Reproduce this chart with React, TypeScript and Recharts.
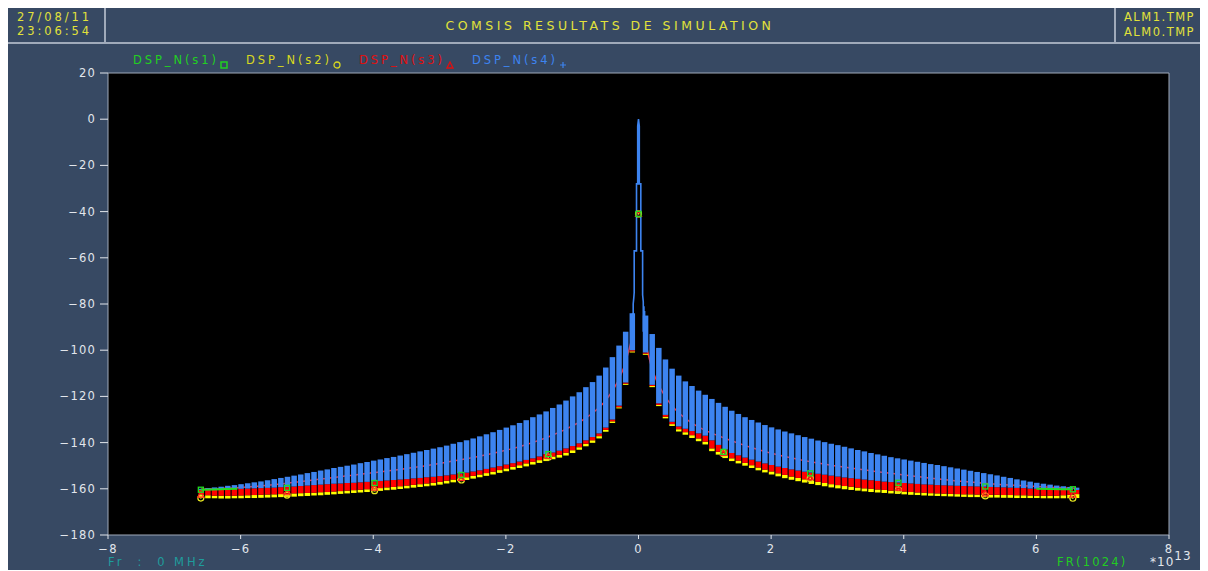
import React from 'react';
import {
  ComposedChart, Bar, Line, Scatter, XAxis, YAxis, CartesianGrid, ReferenceLine, Legend
} from 'recharts';

// frequency bins (x 1e13), each half listed outward from the centre
const freqLeft = [
  -0.1, -0.2, -0.3, -0.4, -0.5, -0.6, -0.7, -0.8, -0.9, -1.0,
  -1.1, -1.2, -1.3, -1.4, -1.5, -1.6, -1.7, -1.8, -1.9, -2.0,
  -2.1, -2.2, -2.3, -2.4, -2.5, -2.6, -2.7, -2.8, -2.9, -3.0,
  -3.1, -3.2, -3.3, -3.4, -3.5, -3.6, -3.7, -3.8, -3.9, -4.0,
  -4.1, -4.2, -4.3, -4.4, -4.5, -4.6, -4.7, -4.8, -4.9, -5.0,
  -5.1, -5.2, -5.3, -5.4, -5.5, -5.6, -5.7, -5.8, -5.9, -6.0,
  -6.1, -6.2, -6.3, -6.4, -6.5, -6.6,
];
const freqRight = [
  0.1, 0.2, 0.3, 0.4, 0.5, 0.6, 0.7, 0.8, 0.9, 1.0,
  1.1, 1.2, 1.3, 1.4, 1.5, 1.6, 1.7, 1.8, 1.9, 2.0,
  2.1, 2.2, 2.3, 2.4, 2.5, 2.6, 2.7, 2.8, 2.9, 3.0,
  3.1, 3.2, 3.3, 3.4, 3.5, 3.6, 3.7, 3.8, 3.9, 4.0,
  4.1, 4.2, 4.3, 4.4, 4.5, 4.6, 4.7, 4.8, 4.9, 5.0,
  5.1, 5.2, 5.3, 5.4, 5.5, 5.6, 5.7, 5.8, 5.9, 6.0,
  6.1, 6.2, 6.3, 6.4, 6.5, 6.6,
];

// DSP_N(s4): top of the oscillation
const s4HighLeft = [
  -84, -92, -98, -103, -107.5, -111, -113.8, -116, -118.2, -120,
  -121.8, -123.5, -125, -126.5, -127.8, -129, -130.3, -131.5, -132.5, -133.5,
  -134.5, -135.5, -136.4, -137.3, -138.2, -139, -139.8, -140.5, -141.3, -142,
  -142.6, -143.2, -143.8, -144.4, -145, -145.6, -146.2, -146.7, -147.3, -147.8,
  -148.4, -148.9, -149.5, -150, -150.5, -151, -151.6, -152.1, -152.7, -153.2,
  -153.8, -154.3, -154.8, -155.3, -155.8, -156.3, -156.8, -157.2, -157.6, -158,
  -158.4, -158.7, -159.1, -159.4, -159.7, -160,
];
const s4HighRight = [
  -85, -93, -99, -104, -108, -111, -113.5, -115.5, -117.5, -119.3,
  -121.1, -122.8, -124.5, -126.2, -127.6, -129, -130.2, -131.3, -132.4, -133.4,
  -134.3, -135.2, -136, -136.8, -137.6, -138.3, -139.1, -139.8, -140.5, -141.1,
  -141.8, -142.5, -143.2, -143.8, -144.5, -145.1, -145.7, -146.3, -146.8, -147.3,
  -147.8, -148.3, -148.8, -149.3, -149.7, -150.2, -150.7, -151.2, -151.7, -152.2,
  -152.7, -153.2, -153.7, -154.2, -154.8, -155.3, -155.9, -156.4, -156.9, -157.4,
  -157.8, -158.2, -158.6, -158.9, -159.2, -159.5,
];
// DSP_N(s4): bottom of the oscillation
const s4LowLeft = [
  -100, -114, -124, -130, -133.5, -136, -137.6, -139, -140.3, -141.5,
  -142.5, -143.5, -144.3, -145, -146, -146.8, -147.5, -148.2, -148.9, -149.5,
  -150.2, -150.8, -151.4, -152, -152.5, -153, -153.4, -153.8, -154.2, -154.5,
  -154.8, -155, -155.3, -155.5, -155.8, -156, -156.2, -156.4, -156.6, -156.8,
  -157, -157.2, -157.4, -157.5, -157.7, -157.8, -158, -158.2, -158.4, -158.6,
  -158.8, -159, -159.2, -159.3, -159.5, -159.6, -159.7, -159.8, -159.9, -160,
  -160.1, -160.2, -160.3, -160.4, -160.5, -160.5,
];
const s4LowRight = [
  -101, -115, -123, -128, -131, -133, -134, -135, -136, -137,
  -139, -141, -143, -144.5, -145.5, -146.5, -147.4, -148.2, -149, -149.7,
  -150.4, -151, -151.6, -152.1, -152.6, -153, -153.5, -153.9, -154.3, -154.7,
  -155.1, -155.4, -155.7, -156, -156.3, -156.6, -156.9, -157.1, -157.3, -157.5,
  -157.7, -157.9, -158.1, -158.2, -158.4, -158.5, -158.6, -158.7, -158.8, -158.9,
  -159, -159.1, -159.2, -159.3, -159.4, -159.5, -159.6, -159.7, -159.9, -160,
  -160.1, -160.2, -160.3, -160.4, -160.5, -160.5,
];

// DSP_N(s3): peaks (seen between the s4 strokes) and floor
const s3HighLeft = [
  -95, -106, -113, -118, -122, -125, -127.4, -129.5, -131.3, -132.8,
  -134.3, -135.6, -136.8, -138, -139, -140, -140.9, -141.8, -142.6, -143.3,
  -144, -144.7, -145.3, -145.9, -146.5, -147, -147.5, -148, -148.5, -149,
  -149.5, -150, -150.4, -150.8, -151.2, -151.6, -152, -152.3, -152.7, -153,
  -153.4, -153.7, -154.1, -154.4, -154.8, -155.1, -155.5, -155.8, -156.2, -156.5,
  -156.9, -157.2, -157.6, -157.9, -158.2, -158.5, -158.8, -159, -159.2, -159.4,
  -159.6, -159.7, -159.9, -160, -160.1, -160.2,
];
const s3HighRight = [
  -96, -108, -115, -120, -124, -127, -129.4, -131.5, -133.2, -134.6,
  -135.9, -137, -138.1, -139.2, -140.2, -141.2, -142.1, -143, -143.8, -144.6,
  -145.3, -146, -146.6, -147.2, -147.8, -148.3, -148.8, -149.3, -149.8, -150.2,
  -150.6, -151, -151.4, -151.8, -152.2, -152.6, -152.9, -153.3, -153.6, -154,
  -154.3, -154.7, -155, -155.4, -155.7, -156, -156.3, -156.6, -156.8, -157.1,
  -157.3, -157.6, -157.8, -158, -158.2, -158.4, -158.5, -158.7, -158.8, -159,
  -159.1, -159.3, -159.4, -159.6, -159.7, -159.8,
];
const s3LowLeft = [
  -100.5, -114.5, -124.7, -130.8, -134.5, -137.2, -139, -140.5, -142, -143.3,
  -144.4, -145.3, -146, -146.8, -147.6, -148.3, -149, -149.8, -150.5, -151.2,
  -151.9, -152.6, -153.2, -153.8, -154.4, -155, -155.5, -156, -156.5, -157,
  -157.4, -157.7, -158, -158.3, -158.6, -158.9, -159.2, -159.4, -159.7, -159.9,
  -160.2, -160.4, -160.6, -160.8, -161, -161.2, -161.4, -161.5, -161.7, -161.8,
  -161.9, -162, -162.2, -162.3, -162.4, -162.5, -162.6, -162.7, -162.8, -162.9,
  -163, -163, -163, -163, -162.8, -162.5,
];
const s3LowRight = [
  -101.5, -115.5, -123.7, -128.8, -132, -134.2, -135.5, -136.8, -138.2, -139.6,
  -142.5, -144, -145.5, -146.8, -147.8, -148.8, -149.8, -150.8, -151.7, -152.5,
  -153.3, -154, -154.7, -155.3, -155.9, -156.5, -157, -157.5, -158, -158.4,
  -158.8, -159.1, -159.5, -159.8, -160, -160.3, -160.5, -160.8, -161, -161.2,
  -161.4, -161.6, -161.7, -161.9, -162, -162.1, -162.2, -162.3, -162.4, -162.4,
  -162.5, -162.5, -162.6, -162.6, -162.7, -162.7, -162.8, -162.8, -162.9, -163,
  -163, -163, -163, -162.8, -162.6, -162.3,
];

// DSP_N(s2): floor
const s2LowLeft = [
  -101, -115, -125.2, -131.5, -135.3, -138.2, -140.1, -141.6, -143.1, -144.5,
  -145.6, -146.5, -147.2, -148, -148.8, -149.5, -150.3, -151, -151.7, -152.4,
  -153.1, -153.8, -154.4, -155, -155.6, -156.2, -156.7, -157.2, -157.7, -158.2,
  -158.6, -158.9, -159.2, -159.5, -159.8, -160.1, -160.4, -160.6, -160.9, -161.1,
  -161.4, -161.6, -161.8, -162, -162.2, -162.4, -162.6, -162.8, -162.9, -163.1,
  -163.2, -163.4, -163.5, -163.6, -163.7, -163.8, -163.9, -164, -164, -164.1,
  -164.1, -164.2, -164.2, -164.1, -164.1, -164,
];
const s2LowRight = [
  -102, -116, -124.2, -129.5, -132.8, -135.2, -136.6, -138, -139.4, -140.8,
  -143.7, -145.2, -146.7, -148, -149, -150, -151, -152, -152.9, -153.8,
  -154.6, -155.4, -156.1, -156.7, -157.3, -157.9, -158.4, -158.9, -159.4, -159.8,
  -160.2, -160.5, -160.8, -161.1, -161.4, -161.6, -161.8, -162, -162.2, -162.4,
  -162.6, -162.7, -162.9, -163, -163.1, -163.2, -163.3, -163.4, -163.5, -163.6,
  -163.6, -163.7, -163.8, -163.8, -163.9, -163.9, -164, -164, -164, -164,
  -164.1, -164.1, -164.1, -164.1, -164.1, -164,
];

// central peak of s4
const spikeFreq = [
  -0.09, -0.09, -0.08, -0.08, -0.07, -0.065, -0.065, -0.03, -0.03, -0.012, -0.012, 0,
  0.012, 0.012, 0.035, 0.035, 0.062, 0.062, 0.072, 0.072, 0.082, 0.082, 0.092, 0.092,
];
const spikeLevel = [
  -98, -84, -95, -80, -77, -75, -57, -57, -28, -28, -3, 0,
  -3, -28, -28, -57, -57, -76, -79, -92, -81, -95, -83, -98,
];

// s1 visible at both ends
const s1EdgeFreq = [-6.6, -6.4, -6.2, -6.05, 0, 6.0, 6.2, 6.4, 6.55];
const s1EdgeLevel = [-160.4, -160.3, -160.1, -160, null, -160, -160.1, -160.2, -160.2];

// marker positions
const markFreq = [-6.6, -5.3, -3.98, -2.67, -1.36, 0, 1.28, 2.59, 3.92, 5.23, 6.55];
const s1Marks = [-160.4, -159.6, -157.5, -154, -145, -41, -144, -153.3, -157.4, -159, -160.2];
const s2Marks = [-164, -162.7, -160.8, -156.2, -146.3, -41, -144.8, -155.5, -160.5, -163.1, -164.1];
const s3Marks = [-162.5, -161.5, -159.5, -155.3, -145.8, -41, -144.5, -155, -159.5, -162, -162.5];

const xTicks = [-8, -6, -4, -2, 0, 2, 4, 6, 8];
const yTicks = [-180, -160, -140, -120, -100, -80, -60, -40, -20, 0, 20];

const seriesNames = ['DSP_N(s1)', 'DSP_N(s2)', 'DSP_N(s3)', 'DSP_N(s4)'];
const seriesColors = ['#22d022', '#d8d820', '#e01010', '#3d84f0'];

const FONT = '"DejaVu Sans", Verdana, sans-serif';
const PANEL = '#374963';
const LINE = '#a0aaba';
const HEAD = '#e2e23a';
const BAR = 5.5;

const side = (fs: number[], hi: number[], lo: number[], rl: number[], yl: number[]) =>
  fs.map((f, i) => ({ f, blue: [lo[i], hi[i]], red: [rl[i], lo[i]], yellow: [yl[i], rl[i]] }));

const rows = [
  ...side(freqLeft, s4HighLeft, s4LowLeft, s3LowLeft, s2LowLeft),
  ...side(freqRight, s4HighRight, s4LowRight, s3LowRight, s2LowRight),
];
// s3 peaks, broken at the centre
const s3Peaks = [
  ...freqLeft.map((f, i) => ({ f, v: s3HighLeft[i] as number | null })),
  { f: 0, v: null },
  ...freqRight.map((f, i) => ({ f, v: s3HighRight[i] as number | null })),
];
const spike = spikeFreq.map((f, i) => ({ f, v: spikeLevel[i] }));
const s1Edge = s1EdgeFreq.map((f, i) => ({ f, v: s1EdgeLevel[i] }));
const pts = (vals: number[]) => markFreq.map((f, i) => ({ f, v: vals[i] }));

const fmt = (v: number) => String(v).replace('-', '\u2212');

const tickStyle = { fill: '#e2e6ec', fontSize: 11.5, fontFamily: FONT, letterSpacing: 1.2 };

const SquareMark = (p: any) => (
  <rect x={p.cx - 2.5} y={p.cy - 2.5} width={5} height={5} fill="none" stroke="#22dd22" strokeWidth={1.3} />
);
const CircleMark = (p: any) => (
  <g>
    <circle cx={p.cx} cy={p.cy} r={3} fill="none" stroke="#e8e820" strokeWidth={1.2} />
    <circle cx={p.cx} cy={p.cy} r={0.8} fill="#e8e820" />
  </g>
);
const TriMark = (p: any) => (
  <path d={`M${p.cx},${p.cy - 3} L${p.cx + 3},${p.cy + 2.5} L${p.cx - 3},${p.cy + 2.5} Z`} fill="none" stroke="#ff2020" strokeWidth={1.2} />
);

const legendGlyph = (i: number) => {
  const c = seriesColors[i];
  return (
    <svg width={8} height={8} style={{ marginLeft: 1, verticalAlign: -5 }}>
      {i === 0 && <rect x={1} y={1} width={6} height={6} fill="none" stroke={c} strokeWidth={1.5} />}
      {i === 1 && <circle cx={4} cy={4} r={3} fill="none" stroke={c} strokeWidth={1.3} />}
      {i === 2 && <path d="M4,1 L7,7 L1,7 Z" fill="none" stroke={c} strokeWidth={1.3} />}
      {i === 3 && <path d="M4,1 V7 M1,4 H7" stroke={c} strokeWidth={1.2} />}
    </svg>
  );
};

const renderLegend = () => (
  <div style={{ display: 'flex', fontFamily: FONT, fontSize: 11.5, letterSpacing: 2.9, whiteSpace: 'nowrap' }}>
    {seriesNames.map((n, i) => (
      <span key={n} style={{ color: seriesColors[i], width: 113 }}>
        {n}{legendGlyph(i)}
      </span>
    ))}
  </div>
);

const text = (extra: React.CSSProperties): React.CSSProperties => ({
  position: 'absolute', fontFamily: FONT, fontSize: 11.5, letterSpacing: 2.9, lineHeight: '13px', whiteSpace: 'pre', ...extra,
});

export default function App() {
  return (
    <div style={{ position: 'relative', width: 1200, height: 562, background: PANEL, overflow: 'hidden' }}>
      {/* header */}
      <div style={text({ left: 9, top: 3, color: HEAD })}>27/08/11</div>
      <div style={text({ left: 9, top: 17, color: HEAD })}>23:06:54</div>
      <div style={{ position: 'absolute', left: 96, top: 0, width: 2, height: 35, background: LINE }} />
      <div style={text({ left: 97, top: 11, width: 1010, textAlign: 'center', fontSize: 12.5, letterSpacing: 3.5, color: HEAD })}>
        COMSIS RESULTATS DE SIMULATION
      </div>
      <div style={{ position: 'absolute', left: 1106, top: 0, width: 2, height: 35, background: LINE }} />
      <div style={text({ left: 1116, top: 3, color: HEAD, letterSpacing: 1.5 })}>ALM1.TMP</div>
      <div style={text({ left: 1116, top: 18, color: HEAD, letterSpacing: 1.5 })}>ALM0.TMP</div>
      <div style={{ position: 'absolute', left: 0, top: 34, width: 1200, height: 2, background: LINE }} />

      <div style={{ position: 'absolute', left: 0, top: 0 }}>
        <ComposedChart width={1200} height={562} data={rows} margin={{ top: 65, right: 39, left: 40, bottom: 5 }}>
          <CartesianGrid fill="#000000" horizontal={false} vertical={false} />
          <XAxis
            xAxisId="main" dataKey="f" type="number" domain={[-8, 8]} ticks={xTicks} allowDataOverflow
            height={30} tickFormatter={fmt} tick={tickStyle} tickSize={4} tickMargin={6}
            stroke={LINE} tickLine={{ stroke: '#e2e6ec' }}
          />
          <XAxis xAxisId="ya" dataKey="f" type="number" domain={[-8, 8]} allowDataOverflow hide height={0} />
          <XAxis xAxisId="ra" dataKey="f" type="number" domain={[-8, 8]} allowDataOverflow hide height={0} />
          <XAxis xAxisId="ba" dataKey="f" type="number" domain={[-8, 8]} allowDataOverflow hide height={0} />
          <YAxis
            type="number" domain={[-180, 20]} ticks={yTicks} interval={0} width={60}
            tickFormatter={fmt} tick={tickStyle} tickSize={8} tickMargin={4}
            stroke={LINE} tickLine={{ stroke: '#e2e6ec' }}
          />
          <ReferenceLine xAxisId="main" y={20} stroke={LINE} />
          <ReferenceLine xAxisId="main" x={8} stroke={LINE} />
          <Legend layout="horizontal" verticalAlign="middle" align="center" content={renderLegend}
            wrapperStyle={{ top: 45, left: 125, width: 600, height: 16 }} />

          <Bar xAxisId="ya" dataKey="yellow" name="DSP_N(s2)" fill="#ffff00" barSize={BAR} isAnimationActive={false} />
          <Bar xAxisId="ra" dataKey="red" name="DSP_N(s3)" fill="#ff0000" barSize={BAR} isAnimationActive={false} />
          <Line xAxisId="main" data={s3Peaks} dataKey="v" name="DSP_N(s3) peaks" stroke="#ff2a2a" strokeWidth={1.5}
            dot={false} connectNulls={false} isAnimationActive={false} zIndex={250} />
          <Bar xAxisId="ba" dataKey="blue" name="DSP_N(s4)" fill="#3d84f0" barSize={BAR} isAnimationActive={false} />
          <Line xAxisId="main" data={s1Edge} dataKey="v" name="DSP_N(s1)" stroke="#22dd22" strokeWidth={2}
            dot={false} connectNulls={false} isAnimationActive={false} />
          <Line xAxisId="main" data={spike} dataKey="v" name="DSP_N(s4) peak" stroke="#3d84f0" strokeWidth={1.6}
            dot={false} isAnimationActive={false} />
          <Scatter xAxisId="main" data={pts(s2Marks)} dataKey="v" shape={CircleMark} isAnimationActive={false} />
          <Scatter xAxisId="main" data={pts(s3Marks)} dataKey="v" shape={TriMark} isAnimationActive={false} />
          <Scatter xAxisId="main" data={pts(s1Marks)} dataKey="v" shape={SquareMark} isAnimationActive={false} />
        </ComposedChart>
      </div>

      {/* footer */}
      <div style={text({ left: 100, top: 548, color: '#1f9c9c' })}>{'Fr  :  0 MHz'}</div>
      <div style={text({ left: 1049, top: 548, color: '#22cc22', letterSpacing: 2.2 })}>FR(1024)</div>
      <div style={text({ left: 1142, top: 548, color: '#e2e6ec', letterSpacing: 1, fontSize: 12 })}>
        *10<span style={{ position: 'relative', top: -6 }}>13</span>
      </div>
    </div>
  );
}
